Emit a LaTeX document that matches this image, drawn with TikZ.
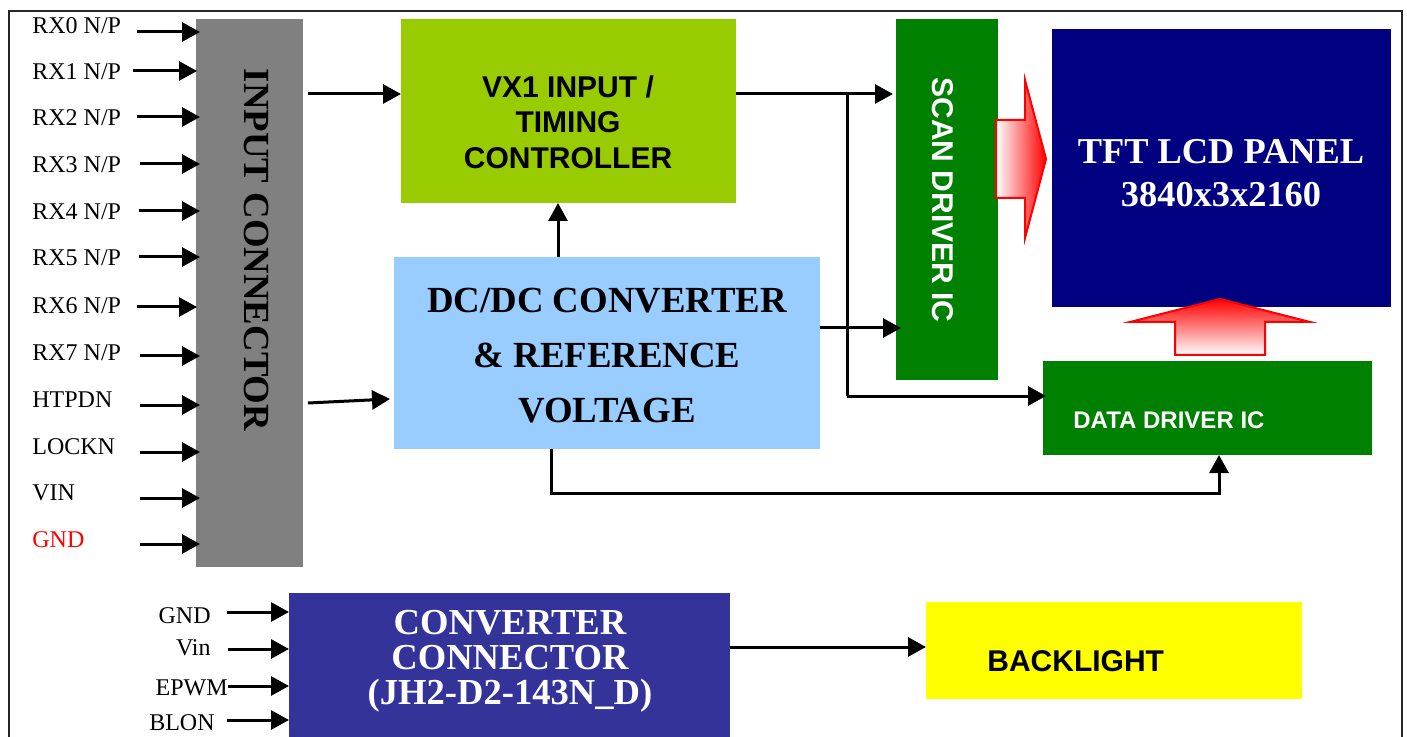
\documentclass[tikz,border=0pt]{standalone}
\usepackage{fontspec}
\setmainfont{Liberation Serif}
\newfontfamily\arialf{Liberation Sans}
\usetikzlibrary{arrows.meta,fit,calc}
\definecolor{cgray}{HTML}{808080}
\definecolor{cvx}{HTML}{99CC00}
\definecolor{cdc}{HTML}{99CCFF}
\definecolor{cdrv}{HTML}{008000}
\definecolor{cnavy}{HTML}{000080}
\definecolor{cconv}{HTML}{333399}
\definecolor{cyel}{HTML}{FFFF00}
\begin{document}
\begin{tikzpicture}[x=0.5pt,y=-0.5pt,
  blk/.style={inner sep=0pt, outer sep=0pt, draw=none},
  arr/.style={line width=1.5pt, -{Triangle[length=9pt,width=9.5pt]}},
  lbl/.style={font=\fontsize{12}{14}\selectfont, inner sep=0pt, anchor=west},
  lblr/.style={font=\fontsize{12}{14}\selectfont, inner sep=0pt, anchor=east},
  tms/.style={font=\bfseries\fontsize{18.4}{21}\selectfont, inner sep=0pt, align=center},
  ari/.style={font=\arialf\bfseries\fontsize{15}{17.75}\selectfont, inner sep=0pt, align=center},
  blockarrow/.style={draw=red, line width=1pt}]
\useasboundingbox (0,0) rectangle (1407,737);
% frame
\draw[line width=0.8pt, black!85] (9,737) -- (9,11) -- (1402,11) -- (1402,737);

% blocks
\node[blk, fill=cgray, fit={(196,19)(303,567)}] (inp) {};
\node[blk, fill=cvx, fit={(401,19)(736,203)}] (vx) {};
\node[blk, fill=cdc, fit={(394,257)(820,449)}] (dc) {};
\node[blk, fill=cdrv, fit={(896,19)(998,380)}] (scan) {};
\node[blk, fill=cnavy, fit={(1052,29)(1391,307)}] (tft) {};
\node[blk, fill=cdrv, fit={(1043,361)(1372,455)}] (data) {};
\node[blk, fill=cconv, fit={(289,593)(730,737)}] (conv) {};
\node[blk, fill=cyel, fit={(926,602)(1302,699)}] (bl) {};

% block texts
\node[tms, rotate=-90] (inptxt) at (256,250) {INPUT CONNECTOR};
\node[ari] (vxtxt) at (568,122) {VX1 INPUT /\\TIMING\\CONTROLLER};
\node[tms, font=\bfseries\fontsize{18.4}{27.5}\selectfont] (dctxt) at (607,356) {DC/DC CONVERTER\\\& REFERENCE\\VOLTAGE};
\node[ari, rotate=-90, text=white] (scantxt) at (943,200) {SCAN DRIVER IC};
\node[tms, text=white, font=\bfseries\fontsize{18.2}{21.5}\selectfont] (tfttxt) at (1221,173) {TFT LCD PANEL\\3840x3x2160};
\node[ari, text=white, font=\arialf\bfseries\fontsize{12}{14}\selectfont, anchor=west] (datatxt) at (1073,420.5) {DATA DRIVER IC};
\node[tms, text=white, font=\bfseries\fontsize{18.3}{17.5}\selectfont] (convtxt) at (510,661) {CONVERTER\\CONNECTOR\\(JH2-D2-143N\_D)};
\node[ari, anchor=west] (bltxt) at (987,661) {BACKLIGHT};

% input labels
\node[lbl] (rx0) at (32,25.5) {RX0 N/P};
\node[lbl] (rx1) at (32,71.5) {RX1 N/P};
\node[lbl] (rx2) at (32,118) {RX2 N/P};
\node[lbl] (rx3) at (32,165) {RX3 N/P};
\node[lbl] (rx4) at (32,212) {RX4 N/P};
\node[lbl] (rx5) at (32,258) {RX5 N/P};
\node[lbl] (rx6) at (32,306) {RX6 N/P};
\node[lbl] (rx7) at (32,353) {RX7 N/P};
\node[lbl] (htpdn) at (32,400) {HTPDN};
\node[lbl] (lockn) at (32,447) {LOCKN};
\node[lbl] (vin) at (32,493) {VIN};
\node[lbl, text=red] (gnd) at (32,540) {GND};

\draw[arr] (137,32) -- (200,32);
\draw[arr] (133,71) -- (197,71);
\draw[arr] (137,117) -- (200,117);
\draw[arr] (140,164) -- (200,164);
\draw[arr] (139,211) -- (200,211);
\draw[arr] (139,257) -- (200,257);
\draw[arr] (137,307) -- (197,307);
\draw[arr] (140,356) -- (200,356);
\draw[arr] (140,405) -- (200,405);
\draw[arr] (140,452) -- (200,452);
\draw[arr] (140,498) -- (200,498);
\draw[arr] (140,544) -- (200,544);

% converter labels
\node[lblr] (cgnd) at (211,615.5) {GND};
\node[lblr] (cvin) at (211,647.5) {Vin};
\node[lblr] (cepwm) at (228,687.5) {EPWM};
\node[lblr] (cblon) at (215,722.5) {BLON};
\draw[arr] (227,612) -- (conv.west |- 0,612);
\draw[arr] (228,649) -- (conv.west |- 0,649);
\draw[arr] (228,686) -- (conv.west |- 0,686);
\draw[arr] (227,720) -- (conv.west |- 0,720);

% internal connectors
\draw[arr] (308,94) -- (vx.west |- 0,94);
\draw[arr] (308,403) -- (390,399);
\draw[arr] (dc.north -| 558,0) -- (vx.south -| 558,0);
\draw[arr] (vx.east |- 0,94) -- (893,94);
\draw[line width=1.5pt] (847,94) -- (847,396);
\draw[arr] (847,396) -- (1046,396);
\draw[arr] (dc.east |- 0,328) -- (901,328);
\draw[arr] (dc.south -| 551,0) -- (551,493) -| (data.south -| 1219,0);
\draw[arr] (conv.east |- 0,647) -- (bl.west |- 0,647);

% block arrows
\shade[blockarrow, left color=white, right color=red]
  (996,120) -- (1025,120) -- (1025,80) -- (1046,159) -- (1025,238) -- (1025,198) -- (996,198) -- cycle;
\shade[blockarrow, top color=red, bottom color=white]
  (1175,355) -- (1175,322) -- (1130,322) -- (1220,299) -- (1310,322) -- (1265,322) -- (1265,355) -- cycle;
\end{tikzpicture}
\end{document}
